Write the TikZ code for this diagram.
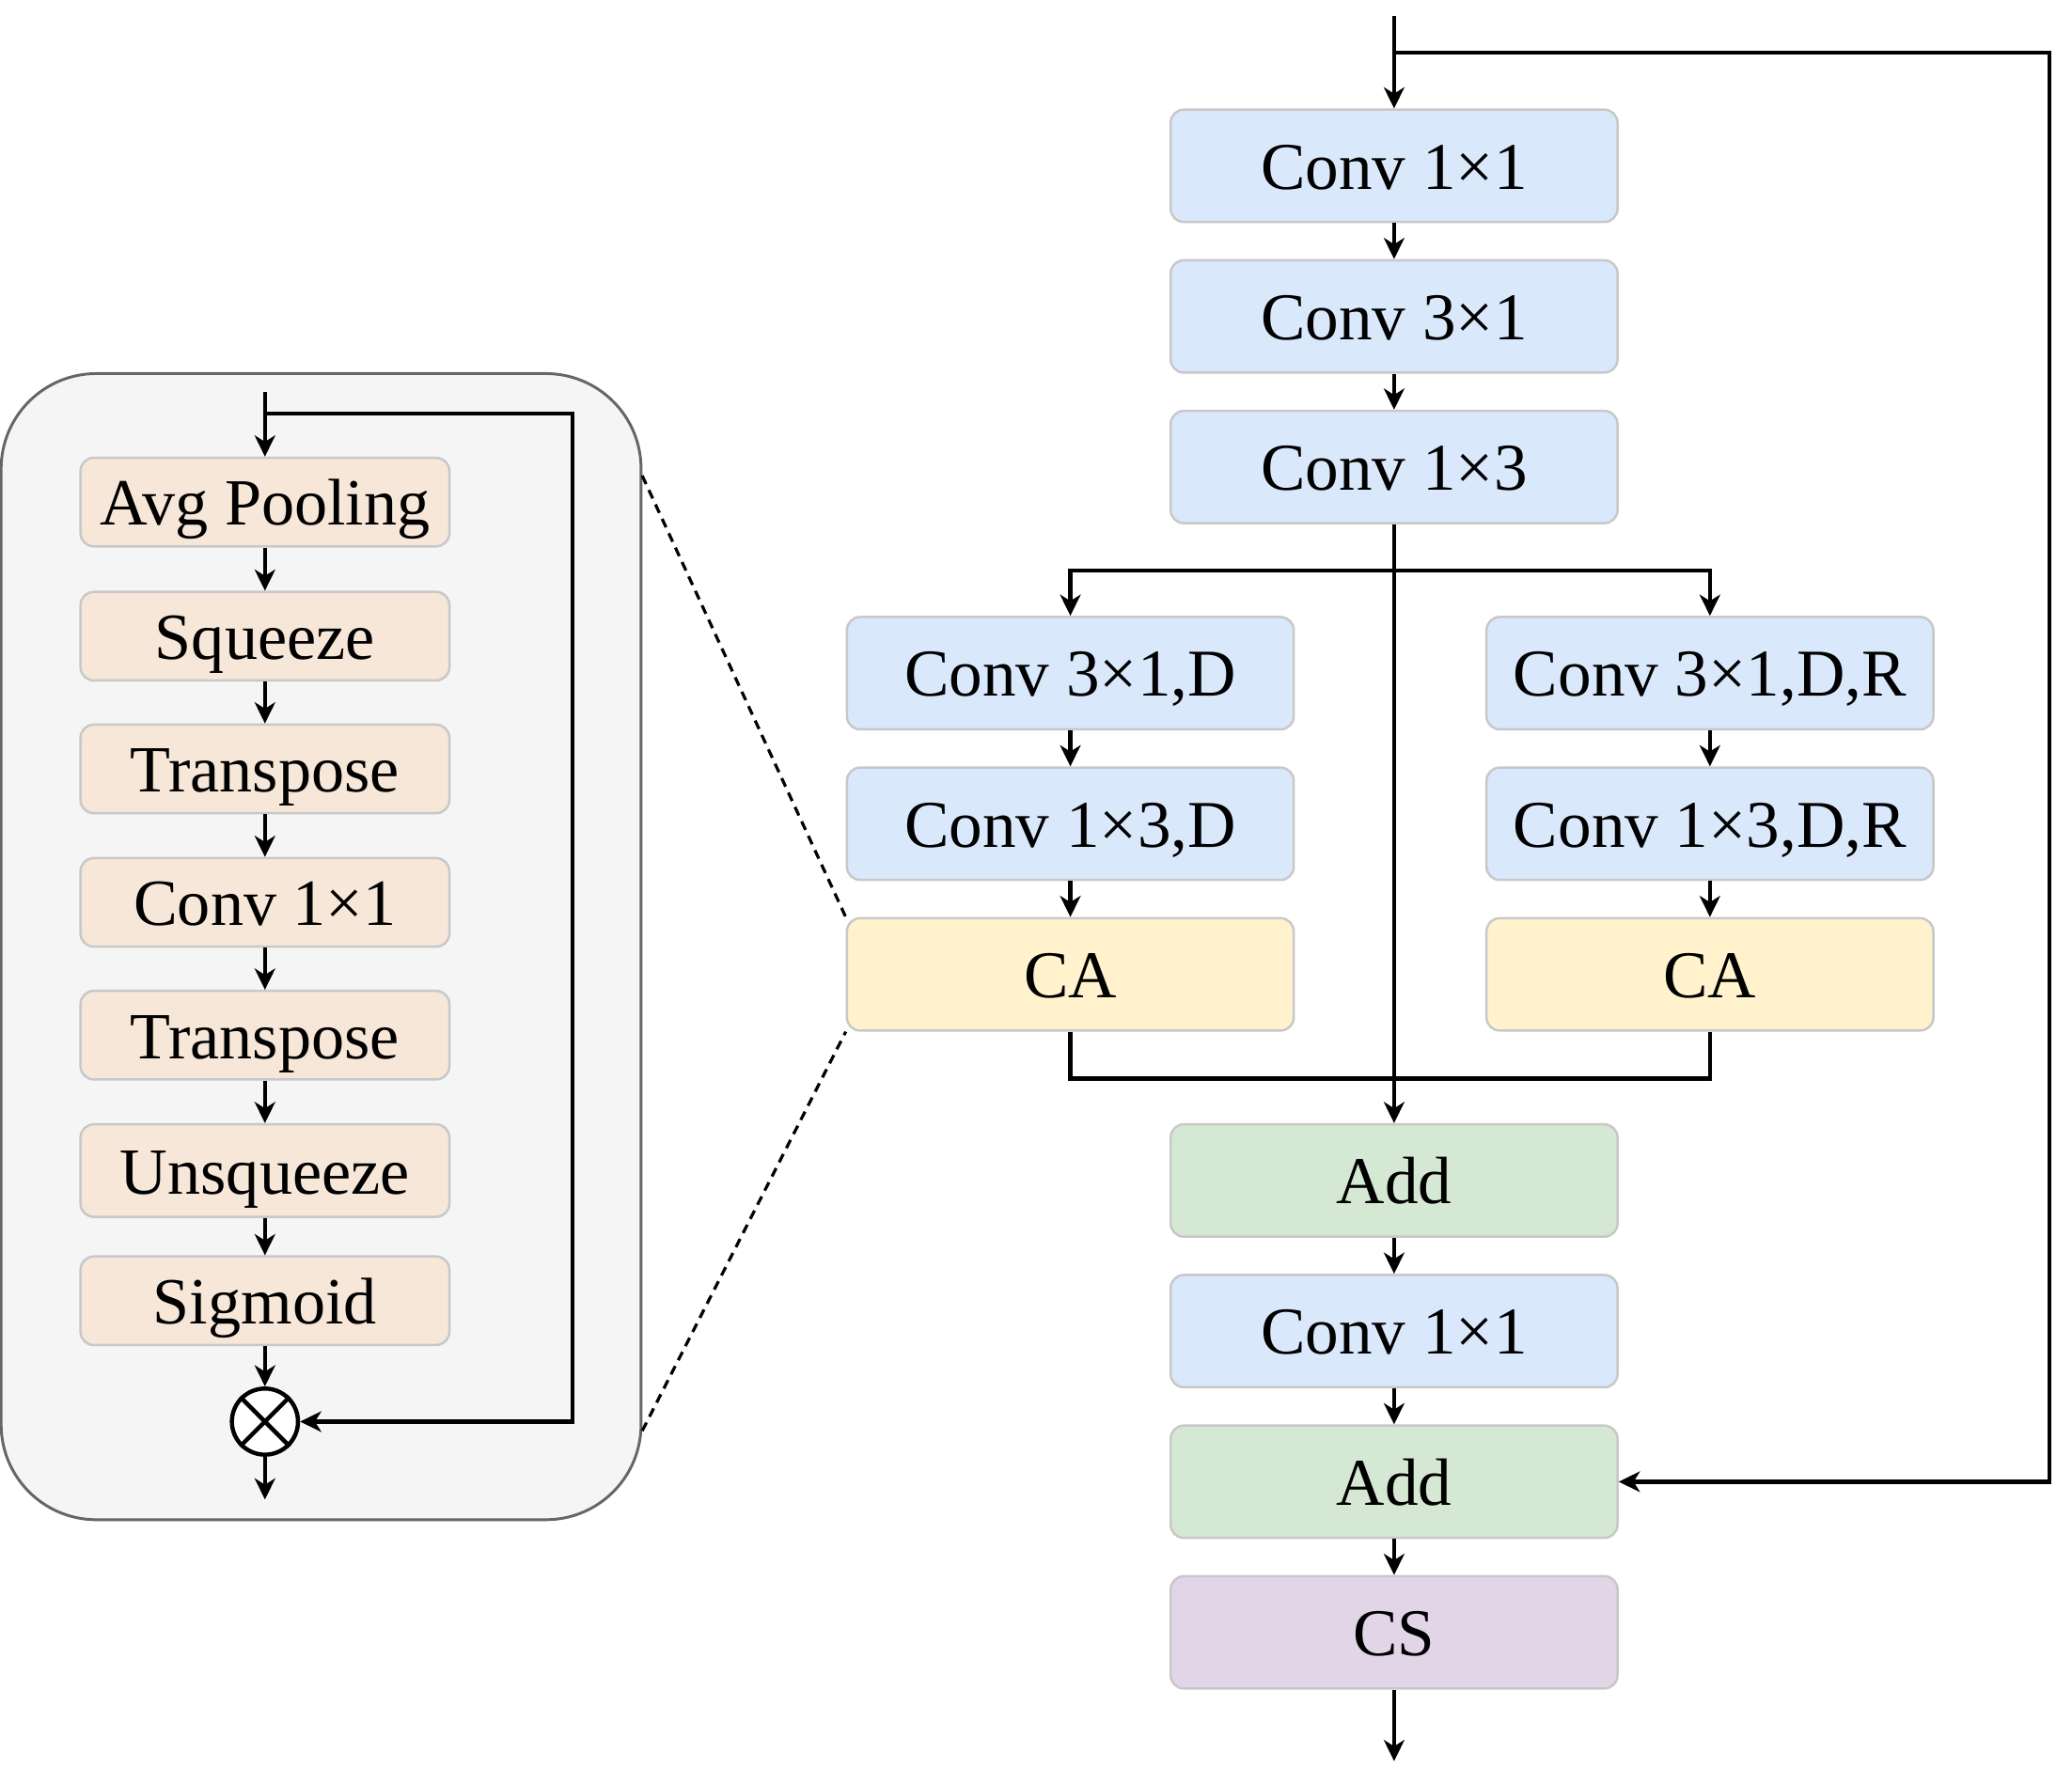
\documentclass[tikz,border=0pt]{standalone}
\usepackage{fontspec}
\setmainfont{Liberation Serif}
\usetikzlibrary{arrows.meta}
\definecolor{bluef}{HTML}{DAE8FC}
\definecolor{yellowf}{HTML}{FFF2CC}
\definecolor{greenf}{HTML}{D5E8D4}
\definecolor{purplef}{HTML}{E1D5E7}
\definecolor{beigef}{HTML}{F6E7D8}
\definecolor{panelf}{HTML}{F5F5F5}
\definecolor{paneld}{HTML}{666666}
\definecolor{boxd}{HTML}{C8C8C8}
\tikzset{
  box/.style={draw=boxd, line width=0.5pt, rounded corners=0.1cm, minimum width=3.38cm, minimum height=0.85cm, inner sep=0pt, text height=10pt, text depth=0pt, font=\fontsize{14.4}{17}\selectfont},
  sbox/.style={draw=boxd, line width=0.5pt, rounded corners=0.1cm, minimum width=2.79cm, minimum height=0.67cm, inner sep=0pt, text height=10pt, text depth=0pt, fill=beigef, font=\fontsize{14.2}{17}\selectfont},
  arr/.style={line width=0.85pt, -{Stealth[length=0.16cm, width=0.155cm, inset=0.048cm]}},
  ln/.style={line width=0.85pt},
  zoomline/.style={line width=0.65pt, dash pattern=on 0.07cm off 0.05cm}
}
\begin{document}
\begin{tikzpicture}[x=0.01cm, y=-0.01cm]
\useasboundingbox (0,0) rectangle (1568,1350);
% ---------- left panel ----------
\node[draw=paneld, fill=panelf, line width=0.6pt, rounded corners=0.72cm, minimum width=4.84cm, minimum height=8.67cm, inner sep=0pt] (panel) at (243,716.5) {};
\node[sbox] (ap) at (200.5,380) {Avg Pooling};
\node[sbox] (sq) at (200.5,481.5) {Squeeze};
\node[sbox] (tp1) at (200.5,582) {Transpose};
\node[sbox] (cv) at (200.5,683) {Conv 1×1};
\node[sbox] (tp2) at (200.5,783.5) {Transpose};
\node[sbox, minimum height=0.70cm] (usq) at (200.5,886) {Unsqueeze};
\node[sbox] (sig) at (200.5,984.5) {Sigmoid};
\node[draw, fill=white, circle, line width=0.9pt, minimum size=0.5cm, inner sep=0pt] (mul) at (200.5,1076) {};
\draw[line width=0.9pt] (mul.north west) -- (mul.south east) (mul.north east) -- (mul.south west);
\coordinate (lin) at (200.5,297);
\coordinate (lsk) at (200.5,313);
\coordinate (lskr) at (433,313);
\coordinate (lout) at (200.5,1135);
\draw[arr] (lin) -- (ap.north);
\draw[arr] (lsk) -- (lskr) |- (mul.east);
\draw[arr] (ap) -- (sq);
\draw[arr] (sq) -- (tp1);
\draw[arr] (tp1) -- (cv);
\draw[arr] (cv) -- (tp2);
\draw[arr] (tp2) -- (usq);
\draw[arr] (usq) -- (sig);
\draw[arr] (sig) -- (mul);
\draw[arr] (mul) -- (lout);
% ---------- right column ----------
\node[box, fill=bluef] (c1) at (1055,125.5) {Conv 1×1};
\node[box, fill=bluef] (c2) at (1055,239.5) {Conv 3×1};
\node[box, fill=bluef] (c3) at (1055,353.5) {Conv 1×3};
\node[box, fill=bluef] (l1) at (810,509.5) {Conv 3×1,D};
\node[box, fill=bluef] (l2) at (810,623.5) {Conv 1×3,D};
\node[box, fill=yellowf] (l3) at (810,737.5) {CA};
\node[box, fill=bluef] (r1) at (1294,509.5) {Conv 3×1,D,R};
\node[box, fill=bluef] (r2) at (1294,623.5) {Conv 1×3,D,R};
\node[box, fill=yellowf] (r3) at (1294,737.5) {CA};
\node[box, fill=greenf] (a1) at (1055,893.5) {Add};
\node[box, fill=bluef] (c4) at (1055,1007.5) {Conv 1×1};
\node[box, fill=greenf] (a2) at (1055,1121.5) {Add};
\node[box, fill=purplef] (cs) at (1055,1235.5) {CS};
\coordinate (rin) at (1055,12);
\coordinate (rsk) at (1055,40);
\coordinate (rskr) at (1551,40);
\coordinate (split) at (1055,432);
\coordinate (rout) at (1055,1333);
\draw[arr] (rin) -- (c1.north);
\draw[arr] (rsk) -- (rskr) |- (a2.east);
\draw[arr] (c1) -- (c2);
\draw[arr] (c2) -- (c3);
\draw[arr] (c3) -- (a1);
\draw[arr] (split) -| (l1.north);
\draw[arr] (split) -| (r1.north);
\draw[arr] (l1) -- (l2);
\draw[arr] (l2) -- (l3);
\draw[arr] (r1) -- (r2);
\draw[arr] (r2) -- (r3);
\draw[ln] (l3.south) -- ++(0,35.5) -| (r3.south);
\draw[arr] (a1) -- (c4);
\draw[arr] (c4) -- (a2);
\draw[arr] (a2) -- (cs);
\draw[arr] (cs) -- (rout);
% ---------- zoom lines ----------
\coordinate (z1) at (486,360);
\coordinate (z2) at (486,1083);
\draw[zoomline] (z1) -- (l3.north west);
\draw[zoomline] (z2) -- (l3.south west);
\end{tikzpicture}
\end{document}
